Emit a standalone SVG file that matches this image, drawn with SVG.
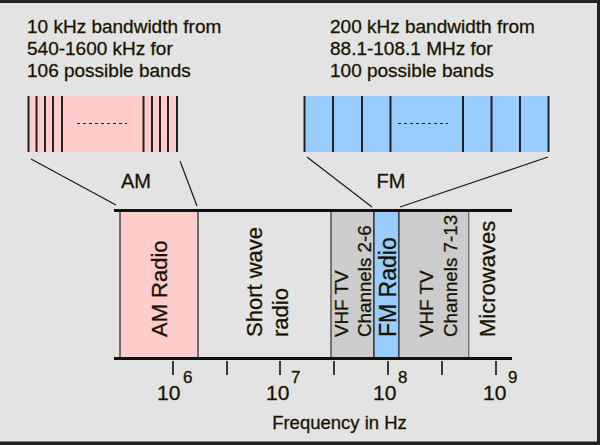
<svg xmlns="http://www.w3.org/2000/svg" width="600" height="445" viewBox="0 0 600 445">
<style>
text{font-family:"Liberation Sans",Arial,sans-serif;fill:#141000;stroke:#2a2200;stroke-width:0.3}
.cap{font-size:19px}
.lab{font-size:20px}
.thin{stroke:#1a1a1a;stroke-width:1.2;fill:none}
.band{stroke:#222;stroke-width:2}
.axis{stroke:#111;stroke-width:3}
.tick{stroke:#111;stroke-width:1.6}
.dash{stroke:#222;stroke-width:1.2;stroke-dasharray:3,3}
.v22{font-size:22px}
.v19{font-size:18.8px}
.exp{font-size:21px}
.sup{font-size:17px}
</style>
<rect x="0" y="0" width="600" height="445" fill="#222"/>
<rect x="0" y="3" width="597" height="438.5" fill="#e3e3e3"/>

<g id="am-caption">
<text class="cap" x="27" y="33">10 kHz bandwidth from</text>
<text class="cap" x="27" y="55">540-1600 kHz for</text>
<text class="cap" x="27" y="77">106 possible bands</text>
</g>
<g id="fm-caption">
<text class="cap" x="330" y="33">200 kHz bandwidth from</text>
<text class="cap" x="330" y="55">88.1-108.1 MHz for</text>
<text class="cap" x="330" y="77">100 possible bands</text>
</g>

<g id="am-detail">
<rect x="28" y="96" width="150" height="56" fill="#ffcccc"/>
<g class="band">
<line x1="28.5" y1="96" x2="28.5" y2="152"/>
<line x1="36.5" y1="96" x2="36.5" y2="152"/>
<line x1="45" y1="96" x2="45" y2="152"/>
<line x1="53" y1="96" x2="53" y2="152"/>
<line x1="62" y1="96" x2="62" y2="152"/>
<line x1="143.5" y1="96" x2="143.5" y2="152"/>
<line x1="152" y1="96" x2="152" y2="152"/>
<line x1="160" y1="96" x2="160" y2="152"/>
<line x1="168" y1="96" x2="168" y2="152"/>
<line x1="177" y1="96" x2="177" y2="152"/>
</g>
<line class="dash" x1="77" y1="123.5" x2="127" y2="123.5"/>
<text class="lab" x="136" y="188" text-anchor="middle">AM</text>
</g>

<g id="fm-detail">
<rect x="304" y="96" width="245" height="56" fill="#99ccff"/>
<g class="band">
<line x1="304.5" y1="96" x2="304.5" y2="152"/>
<line x1="333" y1="96" x2="333" y2="152"/>
<line x1="362" y1="96" x2="362" y2="152"/>
<line x1="390.5" y1="96" x2="390.5" y2="152"/>
<line x1="463" y1="96" x2="463" y2="152"/>
<line x1="491.5" y1="96" x2="491.5" y2="152"/>
<line x1="520" y1="96" x2="520" y2="152"/>
<line x1="548.5" y1="96" x2="548.5" y2="152"/>
</g>
<line class="dash" x1="398" y1="123.5" x2="448" y2="123.5"/>
<text class="lab" x="391" y="188" text-anchor="middle">FM</text>
</g>

<g id="connectors">
<line class="thin" x1="31" y1="159" x2="116" y2="205"/>
<line class="thin" x1="180" y1="161" x2="197" y2="206"/>
<line class="thin" x1="307" y1="157" x2="372" y2="207"/>
<line class="thin" x1="548" y1="157" x2="400" y2="207"/>
</g>

<g id="spectrum">
<rect x="120" y="211" width="78" height="147" fill="#ffcccc" stroke="#222" stroke-width="1.2"/>
<rect x="331" y="211" width="43" height="147" fill="#cccccc" stroke="#333" stroke-width="1.2"/>
<rect x="374" y="211" width="25" height="147" fill="#99ccff" stroke="#222" stroke-width="1.2"/>
<rect x="399" y="211" width="70" height="147" fill="#cccccc" stroke="#333" stroke-width="1.2"/>
<line x1="469.5" y1="211" x2="469.5" y2="358" stroke="#c8b890" stroke-width="1"/>
<line class="axis" x1="114" y1="210.5" x2="512" y2="210.5"/>
<line class="axis" x1="114" y1="358.5" x2="512" y2="358.5"/>
</g>

<g id="band-labels">
<text class="v22" transform="translate(167,337) rotate(-90)">AM Radio</text>
<text class="v22" transform="translate(262,337) rotate(-90)">Short wave</text>
<text class="v22" transform="translate(288,337) rotate(-90)">radio</text>
<text class="v19" transform="translate(348,337) rotate(-90)">VHF TV</text>
<text class="v19" transform="translate(371,337) rotate(-90)">Channels 2-6</text>
<text transform="translate(396,337) rotate(-90)" font-size="23">FM Radio</text>
<text class="v19" transform="translate(433,337) rotate(-90)">VHF TV</text>
<text class="v19" transform="translate(457,337) rotate(-90)">Channels 7-13</text>
<text class="v22" transform="translate(495,337) rotate(-90)">Microwaves</text>
</g>

<g id="axis-ticks">
<line class="tick" x1="173" y1="361" x2="173" y2="375"/>
<line class="tick" x1="227" y1="361" x2="227" y2="375"/>
<line class="tick" x1="280" y1="361" x2="280" y2="375"/>
<line class="tick" x1="334" y1="361" x2="334" y2="375"/>
<line class="tick" x1="388" y1="361" x2="388" y2="375"/>
<line class="tick" x1="442" y1="361" x2="442" y2="375"/>
<line class="tick" x1="496" y1="361" x2="496" y2="375"/>
</g>

<g id="axis-labels">
<text class="exp" x="157" y="400">10</text><text class="sup" x="183" y="383">6</text>
<text class="exp" x="266" y="400">10</text><text class="sup" x="291" y="383">7</text>
<text class="exp" x="373" y="400">10</text><text class="sup" x="398" y="383">8</text>
<text class="exp" x="483" y="400">10</text><text class="sup" x="508" y="383">9</text>
<text x="339.5" y="429" text-anchor="middle" font-size="18.5">Frequency in Hz</text>
</g>
</svg>
